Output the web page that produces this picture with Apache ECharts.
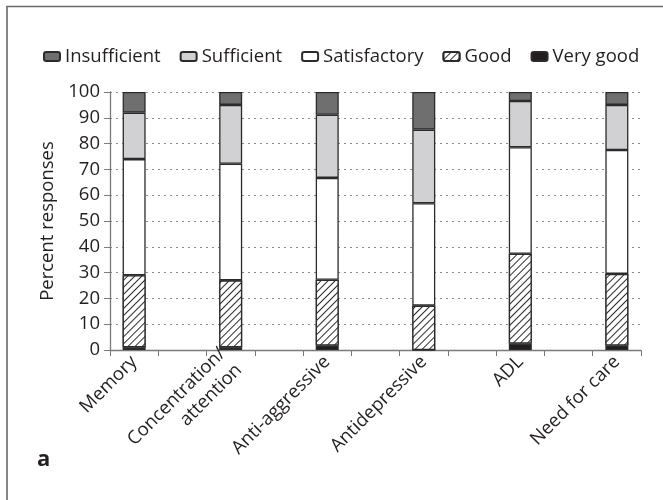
<!DOCTYPE html>
<html>
<head>
<meta charset="utf-8">
<script src="https://cdn.jsdelivr.net/npm/echarts@6/dist/echarts.min.js"></script>
<style>
    html, body { margin: 0; padding: 0; background: #fff; }
    #chart { width: 663px; height: 500px; }
</style>
</head>
<body>
<div id="chart"></div>
<script>
// 数据
var categories = ['Memory', 'Concentration/\nattention', 'Anti-aggressive', 'Antidepressive', 'ADL', 'Need for care'];
var veryGood = [1, 1, 1.7, 0, 2.5, 1.7];
var good = [28, 26, 25.5, 17.2, 34.8, 27.8];
var satisfactory = [45, 45.2, 39.5, 39.7, 41.3, 48];
var sufficient = [18, 22.8, 24.5, 28.5, 17.9, 17.5];
var insufficient = [8, 5, 8.8, 14.6, 3.5, 5];
var yTicks = [0, 10, 20, 30, 40, 50, 60, 70, 80, 90, 100];

// 每两个柱子之间插入一个空类目
function spaced(arr, blank) {
    var out = [];
    for (let i = 0; i < arr.length; i++) {
        if (i > 0) out.push(blank);
        out.push(arr[i]);
    }
    return out;
}

var font = 'Open Sans';
var fs = 18.5;
var border = { borderColor: '#2b2b2b', borderWidth: 1.3 };

function makeSeries(name, values, color, extra) {
    return {
        name: name,
        type: 'bar',
        stack: 'all',
        barWidth: 23,
        data: spaced(values, '-'),
        itemStyle: Object.assign({ color: color }, border, extra || {})
    };
}

var chart = echarts.init(document.getElementById('chart'));
var option = {
    animation: false,
    backgroundColor: '#fff',
    textStyle: { fontFamily: font },
    legend: {
        data: ['Insufficient', 'Sufficient', 'Satisfactory', 'Good', 'Very good'],
        left: 38,
        top: 42,
        itemWidth: 16,
        itemHeight: 9,
        itemGap: 19,
        textStyle: { fontSize: fs, color: '#231f20', fontFamily: font }
    },
    grid: { left: 110, right: 22, top: 92, bottom: 150 },
    xAxis: {
        type: 'category',
        data: spaced(categories, ''),
        axisLine: { lineStyle: { color: '#7a7a7a', width: 1.3 } },
        axisTick: { show: true, interval: 0, length: 6, lineStyle: { color: '#7a7a7a' } },
        axisLabel: {
            interval: 0,
            rotate: 45,
            margin: 9,
            fontSize: fs,
            color: '#231f20',
            lineHeight: 23,
            fontFamily: font
        }
    },
    yAxis: {
        type: 'value',
        min: yTicks[0],
        max: yTicks[yTicks.length - 1],
        interval: 10,
        name: 'Percent responses',
        nameLocation: 'middle',
        nameGap: 53,
        nameRotate: 90,
        nameTextStyle: { fontSize: fs, color: '#231f20', fontFamily: font },
        axisLine: { show: true, lineStyle: { color: '#7a7a7a', width: 1.3 } },
        axisTick: { show: true, length: 6, lineStyle: { color: '#7a7a7a' } },
        axisLabel: { fontSize: fs, color: '#231f20', margin: 10, fontFamily: font },
        splitLine: { show: true, lineStyle: { color: '#8a8a8a', type: [2, 4], width: 1.2 } }
    },
    series: [
        makeSeries('Very good', veryGood, '#231f20'),
        makeSeries('Good', good, '#ffffff', {
            decal: {
                symbol: 'rect',
                color: '#2b2b2b',
                backgroundColor: '#ffffff',
                dashArrayX: [1, 0],
                dashArrayY: [1, 4],
                rotation: -Math.PI / 4
            }
        }),
        makeSeries('Satisfactory', satisfactory, '#ffffff'),
        makeSeries('Sufficient', sufficient, '#d1d1d3'),
        makeSeries('Insufficient', insufficient, '#6f6f6f')
    ],
    graphic: [
        {
            type: 'polyline',
            shape: { points: [[7, 500], [7, 6.5], [663, 6.5]] },
            style: { stroke: '#6a6a6a', lineWidth: 1.6, fill: null }
        },
        {
            type: 'text',
            left: 37,
            top: 449,
            style: { text: 'a', fontSize: 22, fontWeight: 'bold', fill: '#231f20', fontFamily: font }
        }
    ]
};
chart.setOption(option);
</script>
</body>
</html>
